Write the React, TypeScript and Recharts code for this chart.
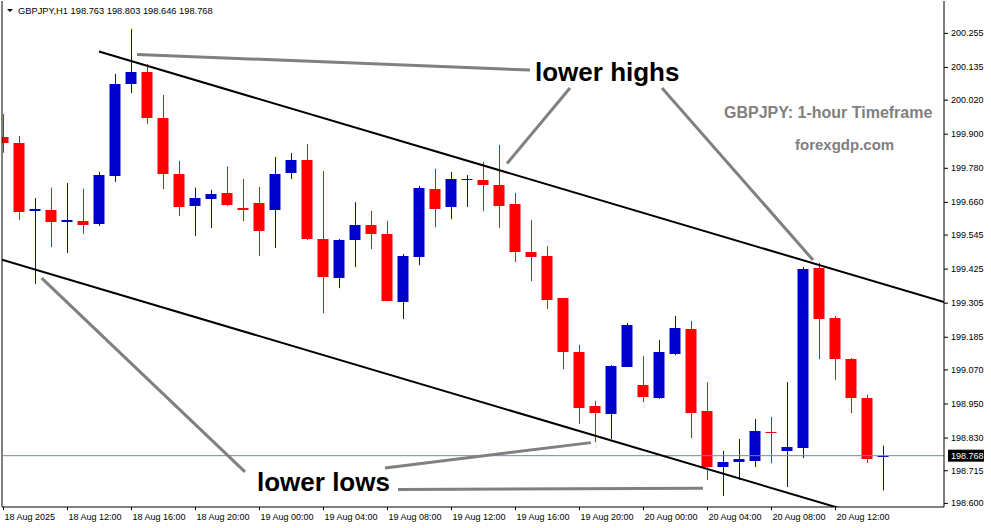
import React from "react";
import { ComposedChart, Bar, XAxis, YAxis, ReferenceLine } from "recharts";

// GBPJPY H1 candles, left to right (bar index 0..55)
const OPEN = [
  199.891, 199.869, 199.630, 199.633, 199.591, 199.594, 199.584, 199.753, 200.077, 200.119,
  199.957, 199.760, 199.647, 199.672, 199.693, 199.640, 199.658, 199.633, 199.763, 199.809,
  199.531, 199.394, 199.527, 199.580, 199.549, 199.309, 199.468, 199.707, 199.644, 199.739,
  199.739, 199.721, 199.654, 199.485, 199.471, 199.323, 199.133, 198.943, 198.915, 199.080,
  199.017, 198.971, 199.126, 199.214, 198.925, 198.728, 198.746, 198.749, 198.851, 198.785,
  198.795, 199.429, 199.253, 199.108, 198.971, 198.763,
];
const HIGH = [
  199.971, 199.894, 199.675, 199.712, 199.728, 199.708, 199.767, 200.112, 200.270, 200.147,
  200.038, 199.806, 199.712, 199.704, 199.786, 199.742, 199.714, 199.820, 199.834, 199.866,
  199.770, 199.531, 199.661, 199.630, 199.594, 199.478, 199.718, 199.778, 199.767, 199.756,
  199.802, 199.862, 199.693, 199.598, 199.506, 199.323, 199.158, 198.961, 199.087, 199.235,
  199.119, 199.175, 199.260, 199.242, 199.027, 198.785, 198.827, 198.897, 198.904, 199.027,
  199.432, 199.447, 199.260, 199.112, 198.982, 198.803,
];
const LOW = [
  199.835, 199.598, 199.373, 199.503, 199.482, 199.549, 199.577, 199.732, 200.045, 199.936,
  199.707, 199.612, 199.542, 199.570, 199.647, 199.594, 199.471, 199.499, 199.742, 199.527,
  199.270, 199.358, 199.432, 199.496, 199.311, 199.249, 199.439, 199.573, 199.601, 199.644,
  199.630, 199.570, 199.450, 199.383, 199.285, 199.073, 198.880, 198.816, 198.827, 199.080,
  198.957, 198.968, 199.122, 198.830, 198.682, 198.626, 198.682, 198.728, 198.742, 198.658,
  198.760, 199.108, 199.035, 198.918, 198.742, 198.646,
];
const CLOSE = [
  199.870, 199.626, 199.637, 199.591, 199.598, 199.580, 199.756, 200.077, 200.119, 199.957,
  199.760, 199.644, 199.675, 199.689, 199.651, 199.633, 199.559, 199.760, 199.809, 199.531,
  199.397, 199.527, 199.580, 199.549, 199.313, 199.471, 199.711, 199.637, 199.742, 199.742,
  199.721, 199.647, 199.485, 199.468, 199.316, 199.133, 198.936, 198.918, 199.084, 199.228,
  198.975, 199.133, 199.218, 198.918, 198.728, 198.746, 198.756, 198.855, 198.848, 198.799,
  199.425, 199.249, 199.108, 198.971, 198.756, 198.768,
];

const TIME_TICKS = [0, 4, 8, 12, 16, 20, 24, 28, 32, 36, 40, 44, 48, 52];
const TIME_LABELS = [
  "18 Aug 2025", "18 Aug 12:00", "18 Aug 16:00", "18 Aug 20:00", "19 Aug 00:00",
  "19 Aug 04:00", "19 Aug 08:00", "19 Aug 12:00", "19 Aug 16:00", "19 Aug 20:00",
  "20 Aug 00:00", "20 Aug 04:00", "20 Aug 08:00", "20 Aug 12:00",
];
const PRICE_TICKS = [
  200.255, 200.135, 200.02, 199.9, 199.78, 199.66, 199.545, 199.425,
  199.305, 199.185, 199.07, 198.95, 198.83, 198.715, 198.6,
];
const PRICE_LABELS = [
  "200.255", "200.135", "200.020", "199.900", "199.780", "199.660", "199.545", "199.425",
  "199.305", "199.185", "199.070", "198.950", "198.830", "198.715", "198.600",
];
const LAST_PRICE = 198.768;

// channel lines and annotation lines, as [bar index, price] pairs
const CHANNEL_TOP = [[5.969, 200.191], [58.781, 199.309]];
const CHANNEL_BOTTOM = [[-0.094, 199.458], [58.781, 198.474]];
const NOTE_LINES = [
  [[8.344, 200.181], [32.906, 200.126]],
  [[35.406, 200.063], [31.469, 199.797]],
  [[41.156, 200.063], [50.594, 199.457]],
  [[2.388, 199.393], [15.094, 198.711]],
  [[23.844, 198.725], [36.719, 198.814]],
  [[24.656, 198.649], [43.719, 198.653]],
];

const X_DOMAIN = [-0.09375, 58.78125];
const Y_DOMAIN = [198.5873, 200.3691];

const BULL = "#0000CD";
const BEAR = "#FF0000";
const FONT = "'Liberation Sans', Arial, sans-serif";

const data = OPEN.map((o, i) => ({
  i,
  open: o,
  high: HIGH[i],
  low: LOW[i],
  close: CLOSE[i],
}));

function Candle(props: any) {
  const { x, y, width, height, payload } = props;
  if (payload == null || height == null) return null;
  const { open, close, high, low } = payload;
  const top = Math.min(y, y + height);
  const h = Math.abs(height);
  const cx = x + width / 2;
  const py = (v: number) => top + ((high - v) / (high - low)) * h;
  const bodyTop = py(Math.max(open, close));
  const bodyBot = py(Math.min(open, close));
  const color = close >= open ? BULL : BEAR;
  return (
    <g>
      <rect x={Math.floor(cx)} y={top} width={1} height={Math.max(1, h)} fill={color} />
      <rect
        x={cx - 5.5}
        y={Math.round(bodyTop)}
        width={11}
        height={Math.max(1, Math.round(bodyBot) - Math.round(bodyTop))}
        fill={color}
      />
    </g>
  );
}

const TimeTick = ({ x, y, payload }: any) => {
  const idx = TIME_TICKS.indexOf(payload.value);
  return (
    <text x={x + 1} y={y + 8} fontSize={9} fontFamily={FONT} fill="#000" textAnchor="start">
      {TIME_LABELS[idx]}
    </text>
  );
};

const PriceTick = ({ x, y, payload }: any) => {
  const idx = PRICE_TICKS.indexOf(payload.value);
  return (
    <text x={x} y={y + 3} fontSize={9} fontFamily={FONT} fill="#000" textAnchor="start">
      {PRICE_LABELS[idx]}
    </text>
  );
};

const LastPriceLabel = (props: any) => {
  const vb = props.viewBox || {};
  const right = vb.x + vb.width;
  const y = vb.y;
  return (
    <g>
      <rect x={right + 4} y={y - 6} width={36} height={12} fill="#000" />
      <text x={right + 7} y={y + 3} fontSize={9} fontFamily={FONT} fill="#fff">
        {LAST_PRICE.toFixed(3)}
      </text>
    </g>
  );
};

const seg = (pts: number[][]) => pts.map(([i, p]) => ({ x: i, y: p }));

export default function App() {
  return (
    <div
      style={{
        position: "absolute",
        left: 0,
        top: 0,
        width: 991,
        height: 528,
        background: "#fff",
        overflow: "hidden",
      }}
    >
      <ComposedChart
        width={991}
        height={528}
        data={data}
        margin={{ top: 1, right: 0, left: 2, bottom: 0 }}
      >
        <XAxis
          dataKey="i"
          type="number"
          domain={X_DOMAIN}
          allowDataOverflow
          ticks={TIME_TICKS}
          interval={0}
          tickSize={3}
          tickMargin={2}
          height={21}
          tick={<TimeTick />}
          axisLine={{ stroke: "#000" }}
          tickLine={{ stroke: "#000" }}
        />
        <YAxis
          orientation="right"
          type="number"
          domain={Y_DOMAIN}
          allowDataOverflow
          ticks={PRICE_TICKS}
          interval={0}
          width={47}
          tickSize={4}
          tickMargin={3}
          tick={<PriceTick />}
          axisLine={{ stroke: "#000" }}
          tickLine={{ stroke: "#000" }}
        />
        <ReferenceLine x={X_DOMAIN[0]} stroke="#000" ifOverflow="visible" />
        <ReferenceLine
          y={LAST_PRICE}
          stroke="#778899"
          strokeWidth={1}
          ifOverflow="visible"
          label={<LastPriceLabel />}
        />
        <Bar
          dataKey={(d: any) => [d.low, d.high]}
          barSize={11}
          shape={<Candle />}
          isAnimationActive={false}
        />
        <ReferenceLine segment={seg(CHANNEL_TOP)} stroke="#000" strokeWidth={2} ifOverflow="hidden" />
        <ReferenceLine segment={seg(CHANNEL_BOTTOM)} stroke="#000" strokeWidth={2} ifOverflow="hidden" />
        {NOTE_LINES.map((l, n) => (
          <ReferenceLine
            key={n}
            segment={seg(l)}
            stroke="#808080"
            strokeWidth={3}
            ifOverflow="hidden"
          />
        ))}
      </ComposedChart>
      <svg
        width={991}
        height={528}
        style={{ position: "absolute", left: 0, top: 0, pointerEvents: "none" }}
      >
        <polygon points="7,9 13,9 10,12" fill="#000" />
        <text x={18} y={14} fontSize={9.3} fontFamily={FONT} fill="#000">
          GBPJPY,H1  198.763 198.803 198.646 198.768
        </text>
        <text x={535} y={81} fontSize={26} fontWeight="bold" fontFamily={FONT} fill="#000">
          lower highs
        </text>
        <text x={257} y={491} fontSize={26} fontWeight="bold" fontFamily={FONT} fill="#000">
          lower lows
        </text>
        <text x={724} y={118} fontSize={16} fontWeight="bold" fontFamily={FONT} fill="#808080">
          GBPJPY: 1-hour Timeframe
        </text>
        <text x={795} y={150} fontSize={15} fontWeight="bold" fontFamily={FONT} fill="#808080">
          forexgdp.com
        </text>
      </svg>
    </div>
  );
}
